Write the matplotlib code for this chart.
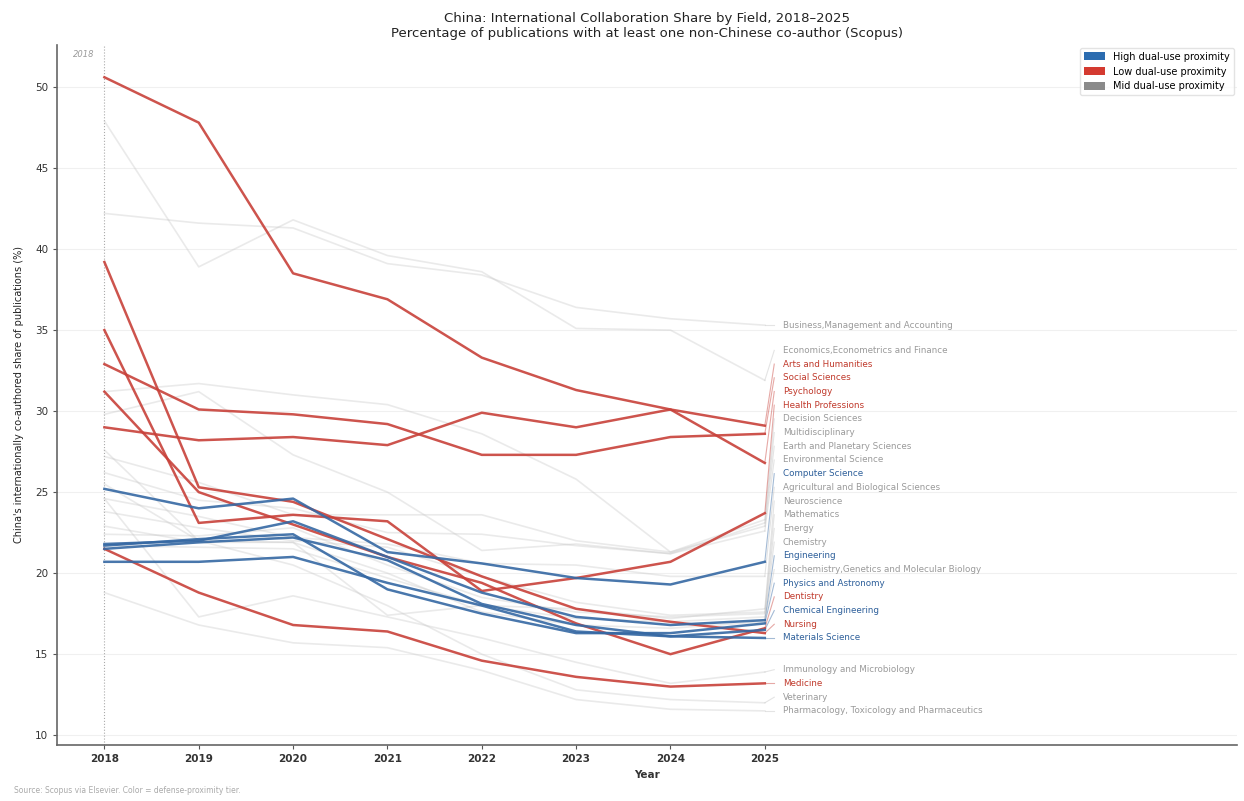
import matplotlib
matplotlib.use("Agg")
import matplotlib.pyplot as plt
from matplotlib.patches import Patch

years = [2018, 2019, 2020, 2021, 2022, 2023, 2024, 2025]

# Low dual-use proximity (red)
arts = [50.6, 47.8, 38.5, 36.9, 33.3, 31.3, 30.1, 29.1]
social = [32.9, 30.1, 29.8, 29.2, 27.3, 27.3, 28.4, 28.6]
psychology = [29.0, 28.2, 28.4, 27.9, 29.9, 29.0, 30.1, 26.8]
health = [35.0, 23.1, 23.6, 23.2, 18.9, 19.7, 20.7, 23.7]
dentistry = [31.2, 25.0, 23.0, 21.0, 19.4, 16.9, 15.0, 16.6]
nursing = [39.2, 25.3, 24.4, 22.1, 19.8, 17.8, 17.0, 16.3]
medicine = [21.5, 18.8, 16.8, 16.4, 14.6, 13.6, 13.0, 13.2]

# High dual-use proximity (blue)
computer = [25.2, 24.0, 24.6, 21.3, 20.6, 19.7, 19.3, 20.7]
engineering = [21.8, 22.0, 23.2, 21.0, 18.8, 17.3, 16.8, 17.1]
physics = [21.7, 22.1, 22.4, 19.0, 17.5, 16.3, 16.3, 16.9]
chem_eng = [21.5, 21.9, 22.2, 20.8, 18.1, 16.8, 16.1, 16.5]
materials = [20.7, 20.7, 21.0, 19.4, 18.0, 16.4, 16.1, 16.0]

# Mid dual-use proximity (gray)
business = [42.2, 41.6, 41.3, 39.1, 38.4, 36.4, 35.7, 35.3]
economics = [47.9, 38.9, 41.8, 39.6, 38.6, 35.1, 35.0, 31.9]
decision = [31.2, 31.7, 31.0, 30.4, 28.6, 25.8, 21.3, 23.3]
multidisc = [29.8, 31.2, 27.3, 25.0, 21.4, 21.8, 21.2, 23.1]
earth = [27.2, 25.6, 23.6, 23.6, 23.6, 22.0, 21.3, 22.9]
environmental = [26.2, 24.5, 24.0, 22.5, 22.4, 21.7, 21.2, 22.6]
agricultural = [24.6, 23.5, 22.2, 21.8, 20.6, 20.5, 19.8, 19.8]
neuroscience = [27.6, 22.0, 21.9, 17.4, 18.0, 17.8, 17.2, 17.8]
mathematics = [23.8, 22.8, 22.0, 21.6, 19.8, 18.2, 17.4, 17.6]
energy = [22.4, 22.3, 22.8, 20.5, 18.5, 17.6, 17.3, 17.5]
chemistry = [21.7, 21.6, 21.5, 19.7, 18.0, 17.2, 17.0, 17.3]
biochem = [22.9, 21.9, 21.9, 20.0, 17.6, 16.8, 16.6, 17.0]
immunology = [24.6, 17.3, 18.6, 17.3, 16.0, 14.5, 13.2, 13.9]
veterinary = [25.5, 22.0, 20.5, 18.0, 15.0, 12.8, 12.2, 12.0]
pharmacology = [18.8, 16.8, 15.7, 15.4, 14.0, 12.2, 11.6, 11.5]

series = [
    ("Arts and Humanities", "Low", arts),
    ("Social Sciences", "Low", social),
    ("Psychology", "Low", psychology),
    ("Health Professions", "Low", health),
    ("Dentistry", "Low", dentistry),
    ("Nursing", "Low", nursing),
    ("Medicine", "Low", medicine),
    ("Computer Science", "High", computer),
    ("Engineering", "High", engineering),
    ("Physics and Astronomy", "High", physics),
    ("Chemical Engineering", "High", chem_eng),
    ("Materials Science", "High", materials),
    ("Business,Management and Accounting", "Mid", business),
    ("Economics,Econometrics and Finance", "Mid", economics),
    ("Decision Sciences", "Mid", decision),
    ("Multidisciplinary", "Mid", multidisc),
    ("Earth and Planetary Sciences", "Mid", earth),
    ("Environmental Science", "Mid", environmental),
    ("Agricultural and Biological Sciences", "Mid", agricultural),
    ("Neuroscience", "Mid", neuroscience),
    ("Mathematics", "Mid", mathematics),
    ("Energy", "Mid", energy),
    ("Chemistry", "Mid", chemistry),
    ("Biochemistry,Genetics and Molecular Biology", "Mid", biochem),
    ("Immunology and Microbiology", "Mid", immunology),
    ("Veterinary", "Mid", veterinary),
    ("Pharmacology, Toxicology and Pharmaceutics", "Mid", pharmacology),
]

line_colors = {"High": "#3568a3", "Low": "#c8413a", "Mid": "#c4c4c4"}
text_colors = {"High": "#2d5f9a", "Low": "#c0392b", "Mid": "#9a9a9a"}
legend_colors = {"High": "#2b6cb0", "Low": "#d43a30", "Mid": "#8a8a8a"}

fig = plt.figure(figsize=(12.44, 8.01), dpi=100)
ax = fig.add_axes([0.046, 0.07, 0.948, 0.874])

# gray lines first, then the colored tiers on top
for tier in ["Mid", "Low", "High"]:
    for name, t, vals in series:
        if t != tier:
            continue
        if t == "Mid":
            ax.plot(years, vals, color=line_colors[t], lw=1.2, alpha=0.35, zorder=2)
        else:
            ax.plot(years, vals, color=line_colors[t], lw=1.8, alpha=0.9, zorder=3)

# end labels: stack bottom-up so they don't overlap
gap = 0.845
ordered = sorted(series, key=lambda s: s[2][-1])
prev = None
for name, t, vals in ordered:
    end = vals[-1]
    ly = end if prev is None else max(end, prev + gap)
    prev = ly
    ax.plot([years[-1], years[-1] + 0.1], [end, ly], color=line_colors[t],
            lw=0.8, alpha=0.45, zorder=1)
    ax.text(years[-1] + 0.19, ly, name, color=text_colors[t], fontsize=6.3,
            va="center", ha="left")

ax.axvline(2018, color="#aaaaaa", lw=0.8, ls=":", zorder=1)
ax.text(2017.9, 52.0, "2018", fontsize=6, color="#999999", style="italic",
        ha="right", va="center")

ax.set_xlim(2017.5, 2030.0)
ax.set_ylim(9.4, 52.6)
ax.set_xticks(years)
ax.set_xticklabels([str(y) for y in years], fontsize=7.5, color="#333333", fontweight="bold")
ax.set_yticks([10, 15, 20, 25, 30, 35, 40, 45, 50])
ax.tick_params(axis="y", labelsize=7.5, colors="#333333")
ax.tick_params(axis="both", length=3, color="#555555")
ax.grid(axis="y", color="#f0f0f0", lw=0.8)
ax.set_axisbelow(True)
for side in ["top", "right"]:
    ax.spines[side].set_visible(False)
for side in ["left", "bottom"]:
    ax.spines[side].set_color("#666666")
    ax.spines[side].set_linewidth(1.2)

ax.set_xlabel("Year", fontsize=7.5, color="#333333", fontweight="bold")
ax.set_ylabel("China's internationally co-authored share of publications (%)",
              fontsize=7, color="#222222", labelpad=8)
ax.set_title("China: International Collaboration Share by Field, 2018\u20132025\n"
             "Percentage of publications with at least one non-Chinese co-author (Scopus)",
             fontsize=9.5, color="#222222", pad=6)

handles = [Patch(facecolor=legend_colors[k], edgecolor="none",
                 label=f"{k} dual-use proximity") for k in ["High", "Low", "Mid"]]
ax.legend(handles=handles, loc="upper right", fontsize=7, frameon=True,
          edgecolor="#dddddd", handlelength=2.2, handleheight=0.9,
          borderaxespad=0.3, bbox_to_anchor=(1.0, 1.0))

fig.text(0.011, 0.01, "Source: Scopus via Elsevier. Color = defense-proximity tier.",
         fontsize=5.5, color="#aaaaaa")

fig.savefig("out.png", dpi=100)
